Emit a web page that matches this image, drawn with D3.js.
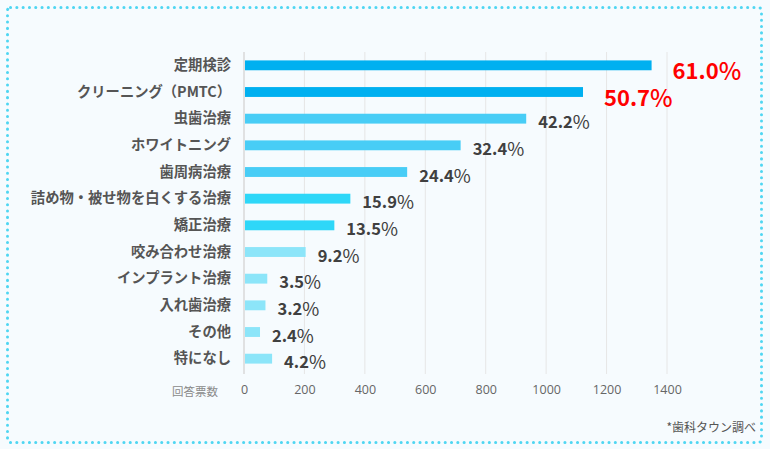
<!DOCTYPE html>
<html><head><meta charset="utf-8">
<script src="https://cdn.jsdelivr.net/npm/d3@7"></script>
<style>
html,body{margin:0;padding:0;background:#f6fbfe;}
svg{display:block;}
</style></head>
<body>
<svg id="chart" width="770" height="449"></svg>
<script>
const categories = ["定期検診","クリーニング（PMTC）","虫歯治療","ホワイトニング","歯周病治療","詰め物・被せ物を白くする治療","矯正治療","咬み合わせ治療","インプラント治療","入れ歯治療","その他","特になし"];
const votes = [1349,1122,934,717,540,352,299,204,77,71,53,93];
const percents = ["61.0","50.7","42.2","32.4","24.4","15.9","13.5","9.2","3.5","3.2","2.4","4.2"];
const tickValues = [0,200,400,600,800,1000,1200,1400];
const axisTitle = "回答票数";
const footnote = "*歯科タウン調べ";
const barColors = ["#00b0f0","#00b0f0","#48cdf6","#48cdf6","#48cdf6","#2ed7f8","#2ed7f8","#8ce5f9","#8ce5f9","#8ce5f9","#8ce5f9","#8ce5f9"];

const svg = d3.select("#chart");
const font = "'Noto Sans CJK JP','Noto Sans',sans-serif";

// dotted border
svg.append("rect").attr("x",7.5).attr("y",7.5).attr("width",754).attr("height",435)
  .attr("rx",3).attr("fill","none").attr("stroke","#4fd6f2").attr("stroke-width",3)
  .attr("stroke-linecap","round").attr("stroke-dasharray","0.1 6.2");

const x = d3.scaleLinear().domain([0,1400]).range([244,667]);
const y = d3.scaleBand().domain(categories).range([52,372]).paddingInner(0.63).paddingOuter(0.315);

// gridlines
svg.append("g").selectAll("line").data(tickValues).join("line")
  .attr("x1",d=>x(d)).attr("x2",d=>x(d)).attr("y1",52).attr("y2",374)
  .attr("stroke",d=>d===0?"#d9d9d9":"#e6e6e6").attr("stroke-width",d=>d===0?1.5:1);

// x axis labels
const xAxis = d3.axisBottom(x).tickValues(tickValues).tickFormat(d3.format("d")).tickSize(0).tickPadding(0);
const gx = svg.append("g").attr("transform","translate(0,385)").call(xAxis);
gx.select(".domain").remove();
gx.selectAll("text").attr("font-family","'Open Sans',sans-serif").attr("font-size",12.5).attr("fill","#666").attr("dy","0.71em").attr("y",0);

svg.append("text").attr("x",218).attr("y",395.5).attr("text-anchor","end")
  .attr("font-family",font).attr("font-size",11.5).attr("fill","#8a8a8a").text(axisTitle);

// category labels
const yAxis = d3.axisLeft(y).tickSize(0).tickPadding(0);
const gy = svg.append("g").attr("transform","translate(231,0)").call(yAxis);
gy.select(".domain").remove();
gy.selectAll("text").attr("font-family",font).attr("font-size",14.3).attr("font-weight",700).attr("fill","#555");

// bars
svg.append("g").selectAll("rect").data(categories).join("rect")
  .attr("x",x(0)+1).attr("y",d=>y(d)).attr("height",y.bandwidth())
  .attr("width",(d,i)=>x(votes[i])-x(0)-1).attr("fill",(d,i)=>barColors[i]);

// value labels
const vl = svg.append("g").selectAll("text").data(categories).join("text")
  .attr("x",(d,i)=>x(votes[i]) + (i<2?21:12))
  .attr("y",(d,i)=>y(d)+y.bandwidth()/2 + (i<2?4:2.5))
  .attr("dominant-baseline","central")
  .attr("font-family",font)
  .attr("font-size",(d,i)=>i<2?22:16.5)
  .attr("fill",(d,i)=>i<2?"#ff0000":"#404040");
vl.append("tspan").attr("font-weight",700).text((d,i)=>percents[i]);
vl.append("tspan").attr("font-weight",(d,i)=>i<2?500:400).attr("font-size",(d,i)=>i<2?24:18.5).text("%");

svg.append("text").attr("x",756).attr("y",432).attr("text-anchor","end")
  .attr("font-family",font).attr("font-size",12).attr("fill","#555").text(footnote);
</script>
</body></html>
